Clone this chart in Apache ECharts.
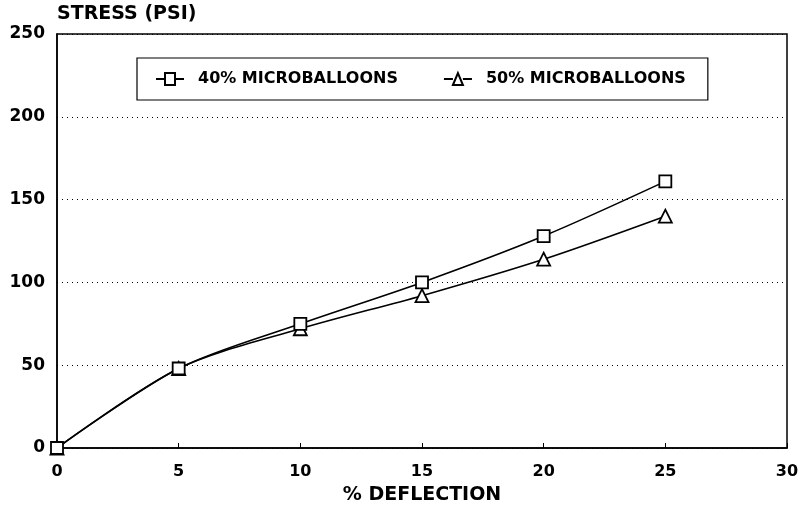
<!DOCTYPE html>
<html><head><meta charset="utf-8">
<script src="https://cdn.jsdelivr.net/npm/echarts@6/dist/echarts.min.js"></script>
<style>html,body{margin:0;padding:0;background:#fff}#c{width:800px;height:508px}</style>
</head><body><div id="c"></div>
<script>
var deflection = [0, 5, 10, 15, 20, 25];
var stress40 = [0, 48, 75, 100, 128, 161];
var stress50 = [0, 48, 72, 92, 114, 140];
var seriesNames = ['40% MICROBALLOONS', '50% MICROBALLOONS'];
var yTitle = 'STRESS (PSI)';
var xTitle = '% DEFLECTION';

function pairs(xs, ys){ return xs.map(function(x,i){return [x, ys[i]];}); }
var FONT = 'DejaVu Sans';
var chart = echarts.init(document.getElementById('c'));
chart.setOption({
  animation:false,
  backgroundColor:'#fff',
  textStyle:{fontFamily:FONT, color:'#000'},
  grid:{left:57, right:13, top:34, bottom:60, outerBoundsMode:'none', containLabel:false, show:true, borderColor:'#000', borderWidth:1.5, backgroundColor:'transparent'},
  legend:{
    top:58, left:137,
    itemGap:45, padding:[13,22,13,18],
    borderColor:'#000', borderWidth:1.2,
    itemWidth:28, itemHeight:12,
    textStyle:{fontFamily:FONT, fontWeight:'bold', fontSize:16, color:'#000', padding:[0,0,0,9]},
    data:[
      {name:seriesNames[0], icon:'path://M0,6L9,6M9,0L19,0L19,12L9,12ZM19,6L28,6'},
      {name:seriesNames[1], icon:'path://M0,6L9,6M9,12L14,0L19,12ZM19,6L28,6'}
    ]
  },
  xAxis:{
    type:'value', min:0, max:30, interval:5,
    name:xTitle, nameLocation:'middle', nameGap:38,
    nameTextStyle:{fontFamily:FONT, fontWeight:'bold', fontSize:19, color:'#000'},
    axisLine:{lineStyle:{color:'#000', width:1.5}},
    axisTick:{show:true, inside:true, length:5, lineStyle:{color:'#000'}},
    axisLabel:{fontFamily:FONT, fontWeight:'bold', fontSize:16, color:'#000', margin:16},
    splitLine:{show:false}
  },
  yAxis:{
    type:'value', min:0, max:250, interval:50,
    name:yTitle, nameLocation:'end', nameGap:10,
    nameTextStyle:{fontFamily:FONT, fontWeight:'bold', fontSize:19, color:'#000', align:'left'},
    axisLine:{lineStyle:{color:'#000', width:1.5}},
    axisTick:{show:false},
    axisLabel:{fontFamily:FONT, fontWeight:'bold', fontSize:17, color:'#000', margin:12},
    splitLine:{show:true, lineStyle:{color:'#000', type:[1,4], width:1}}
  },
  series:[
    {name:seriesNames[0], type:'line', smooth:0.3, z:3, data:pairs(deflection, stress40),
     symbol:'rect', symbolSize:12, showAllSymbol:true,
     lineStyle:{color:'#000', width:1.6}, itemStyle:{color:'#fff', borderColor:'#000', borderWidth:1.8}},
    {name:seriesNames[1], type:'line', smooth:0.3, z:2, data:pairs(deflection, stress50),
     symbol:'triangle', symbolSize:13, showAllSymbol:true,
     lineStyle:{color:'#000', width:1.6}, itemStyle:{color:'#fff', borderColor:'#000', borderWidth:1.8}}
  ]
});
</script></body></html>
